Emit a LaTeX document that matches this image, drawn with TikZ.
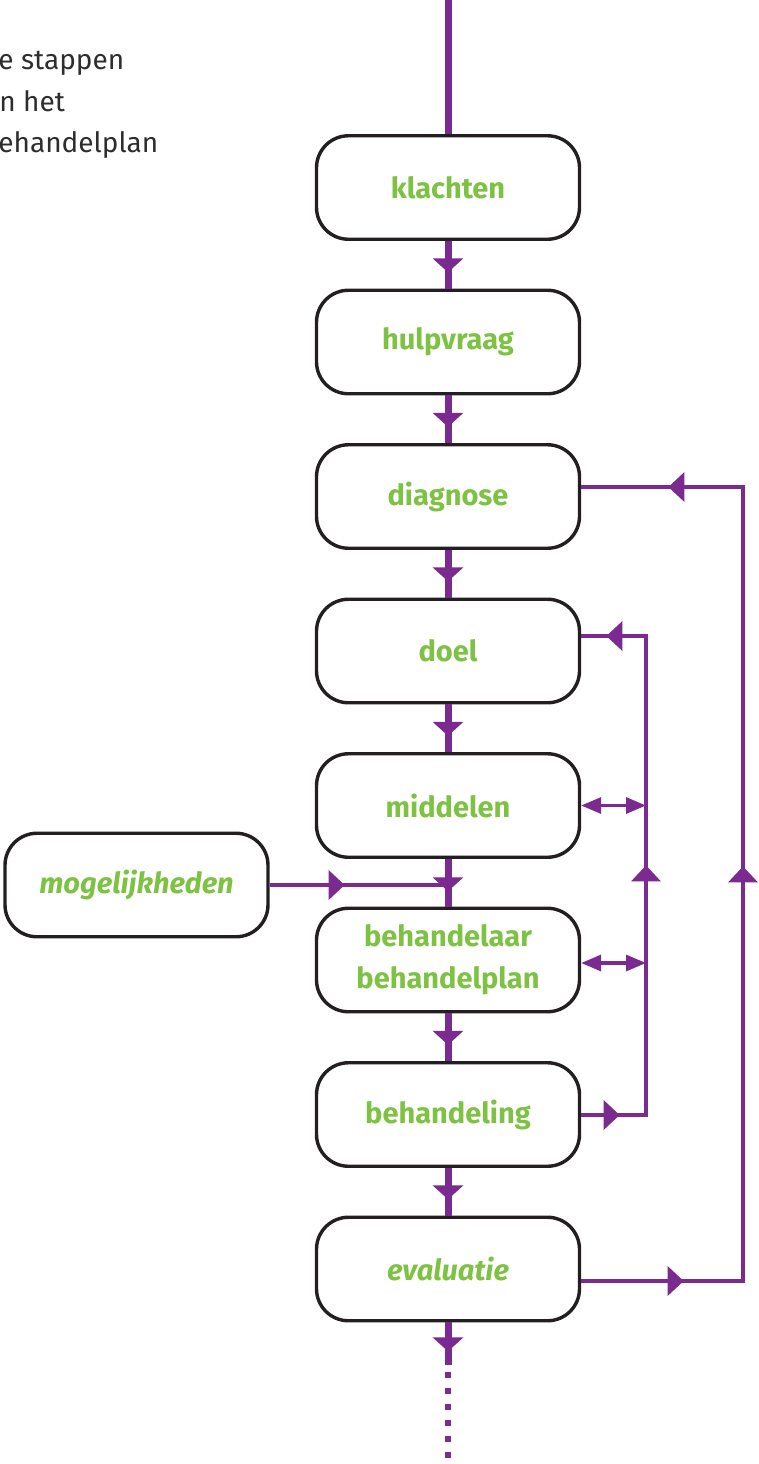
\documentclass[tikz,border=0pt]{standalone}
\usepackage{fontspec}
\setmainfont{Fira Sans}
\usetikzlibrary{arrows.meta,decorations.markings}
\definecolor{paars}{RGB}{123,42,144}
\definecolor{groen}{RGB}{125,194,66}
\definecolor{noir}{RGB}{35,31,32}
\definecolor{gris}{RGB}{45,45,45}
\tikzset{
  pointe/.style={postaction={decorate,decoration={markings,
      mark=at position #1 with {\arrow{Triangle[width=15pt,length=7pt]}}}}},
  fleche/.style={postaction={decorate,decoration={markings,
      mark=at position #1 with {\arrow{Triangle[width=14.5pt,length=8pt]}}}}}
}
\begin{document}
\begin{tikzpicture}[x=0.5pt,y=-0.5pt]
	% Styles (MODIFIABLES)
	\tikzstyle{boite}=[draw=noir,line width=1.7pt,fill=white,rounded corners=16pt,minimum width=131.5pt,minimum height=51.75pt,inner sep=0pt,align=center,text=groen,font=\fontsize{14.5}{21}\selectfont\bfseries]
	\tikzstyle{principal}=[paars,line width=3.5pt]
	\tikzstyle{pointille}=[paars,line width=3.25pt,dash pattern=on 3.3pt off 4.7pt,dash phase=4.7pt]
	\tikzstyle{boucle}=[paars,line width=1.6pt]
	\tikzstyle{allerretour}=[{Triangle[width=8pt,length=10pt]}-{Triangle[width=8pt,length=10pt]}]
	\tikzstyle{commentaire}=[anchor=base west,inner sep=0pt,text=gris,font=\fontsize{14}{21}\selectfont]
	% Dimensions (MODIFIABLES)
	\def\Colonne{448}
	\def\DistanceInterBoites{154.5}
	\def\BoucleInt{646}
	\def\BoucleExt{743}
	% Dimensions calculées
	\def\NiveauA{187.5}
	\def\NiveauB{187.5+1*\DistanceInterBoites}
	\def\NiveauC{187.5+2*\DistanceInterBoites}
	\def\NiveauD{187.5+3*\DistanceInterBoites}
	\def\NiveauE{187.5+4*\DistanceInterBoites}
	\def\NiveauF{187.5+5*\DistanceInterBoites}
	\def\NiveauG{187.5+6*\DistanceInterBoites}
	\def\NiveauH{187.5+7*\DistanceInterBoites}
	\useasboundingbox (0,0) rectangle (759,1464);
	% Texte
	\node[commentaire] (intro1) at (-2,69) {e stappen};
	\node[commentaire] (intro2) at (-1,111) {n het};
	\node[commentaire] (intro3) at (-2,152) {ehandelplan};
	% Noeuds
	\node[boite] (klachten) at ({\Colonne},{\NiveauA}) {klachten};
	\node[boite] (hulpvraag) at ({\Colonne},{\NiveauB}) {hulpvraag};
	\node[boite] (diagnose) at ({\Colonne},{\NiveauC}) {diagnose};
	\node[boite] (doel) at ({\Colonne},{\NiveauD}) {doel};
	\node[boite] (middelen) at ({\Colonne},{\NiveauE}) {middelen};
	\node[boite] (behandelaar) at ({\Colonne},{\NiveauF}) {behandelaar\\behandelplan};
	\node[boite] (behandeling) at ({\Colonne},{\NiveauG}) {behandeling};
	\node[boite] (evaluatie) at ({\Colonne},{\NiveauH}) {\itshape evaluatie};
	\node[boite] (mogelijkheden) at (136.5,885) {\itshape mogelijkheden};
	%
	\coordinate (debut) at ({\Colonne},0);
	\coordinate (jonction) at ({\Colonne},885);
	\coordinate (fin) at ({\Colonne},1365);
	\coordinate (bout) at ({\Colonne},1460);
	\coordinate (IntHaut) at ({\BoucleInt},636);
	\coordinate (IntBas) at ({\BoucleInt},1115);
	\coordinate (ExtHaut) at ({\BoucleExt},487);
	\coordinate (ExtBas) at ({\BoucleExt},1281);
	% Arcs
	\draw[principal] (debut)--(klachten);
	\draw[principal,pointe=0.66] (klachten)--(hulpvraag);
	\draw[principal,pointe=0.66] (hulpvraag)--(diagnose);
	\draw[principal,pointe=0.66] (diagnose)--(doel);
	\draw[principal,pointe=0.66] (doel)--(middelen);
	\draw[principal,pointe=0.68] (middelen)--(behandelaar);
	\draw[principal,pointe=0.66] (behandelaar)--(behandeling);
	\draw[principal,pointe=0.66] (behandeling)--(evaluatie);
	\draw[principal,pointe=0.68] (evaluatie)--(fin);
	\draw[pointille] (fin)--(bout);
	\draw[boucle,fleche=37.5pt] (mogelijkheden)--(jonction);
	% Boucles
	\draw[boucle,fleche=19.25pt,fleche=157.25pt,fleche=291.75pt] (behandeling.east |- IntBas)--(IntBas)--(IntHaut)--(doel.east |- IntHaut);
	\draw[boucle,fleche=51.25pt,fleche=288.25pt,fleche=515.25pt] (evaluatie.east |- ExtBas)--(ExtBas)--(ExtHaut)--(diagnose.east |- ExtHaut);
	\draw[boucle,allerretour] (middelen.east)--(middelen.east -| IntHaut);
	\draw[boucle,allerretour] ([yshift=-1.5pt]behandelaar.east)--([yshift=-1.5pt]behandelaar.east -| IntHaut);
\end{tikzpicture}
\end{document}
